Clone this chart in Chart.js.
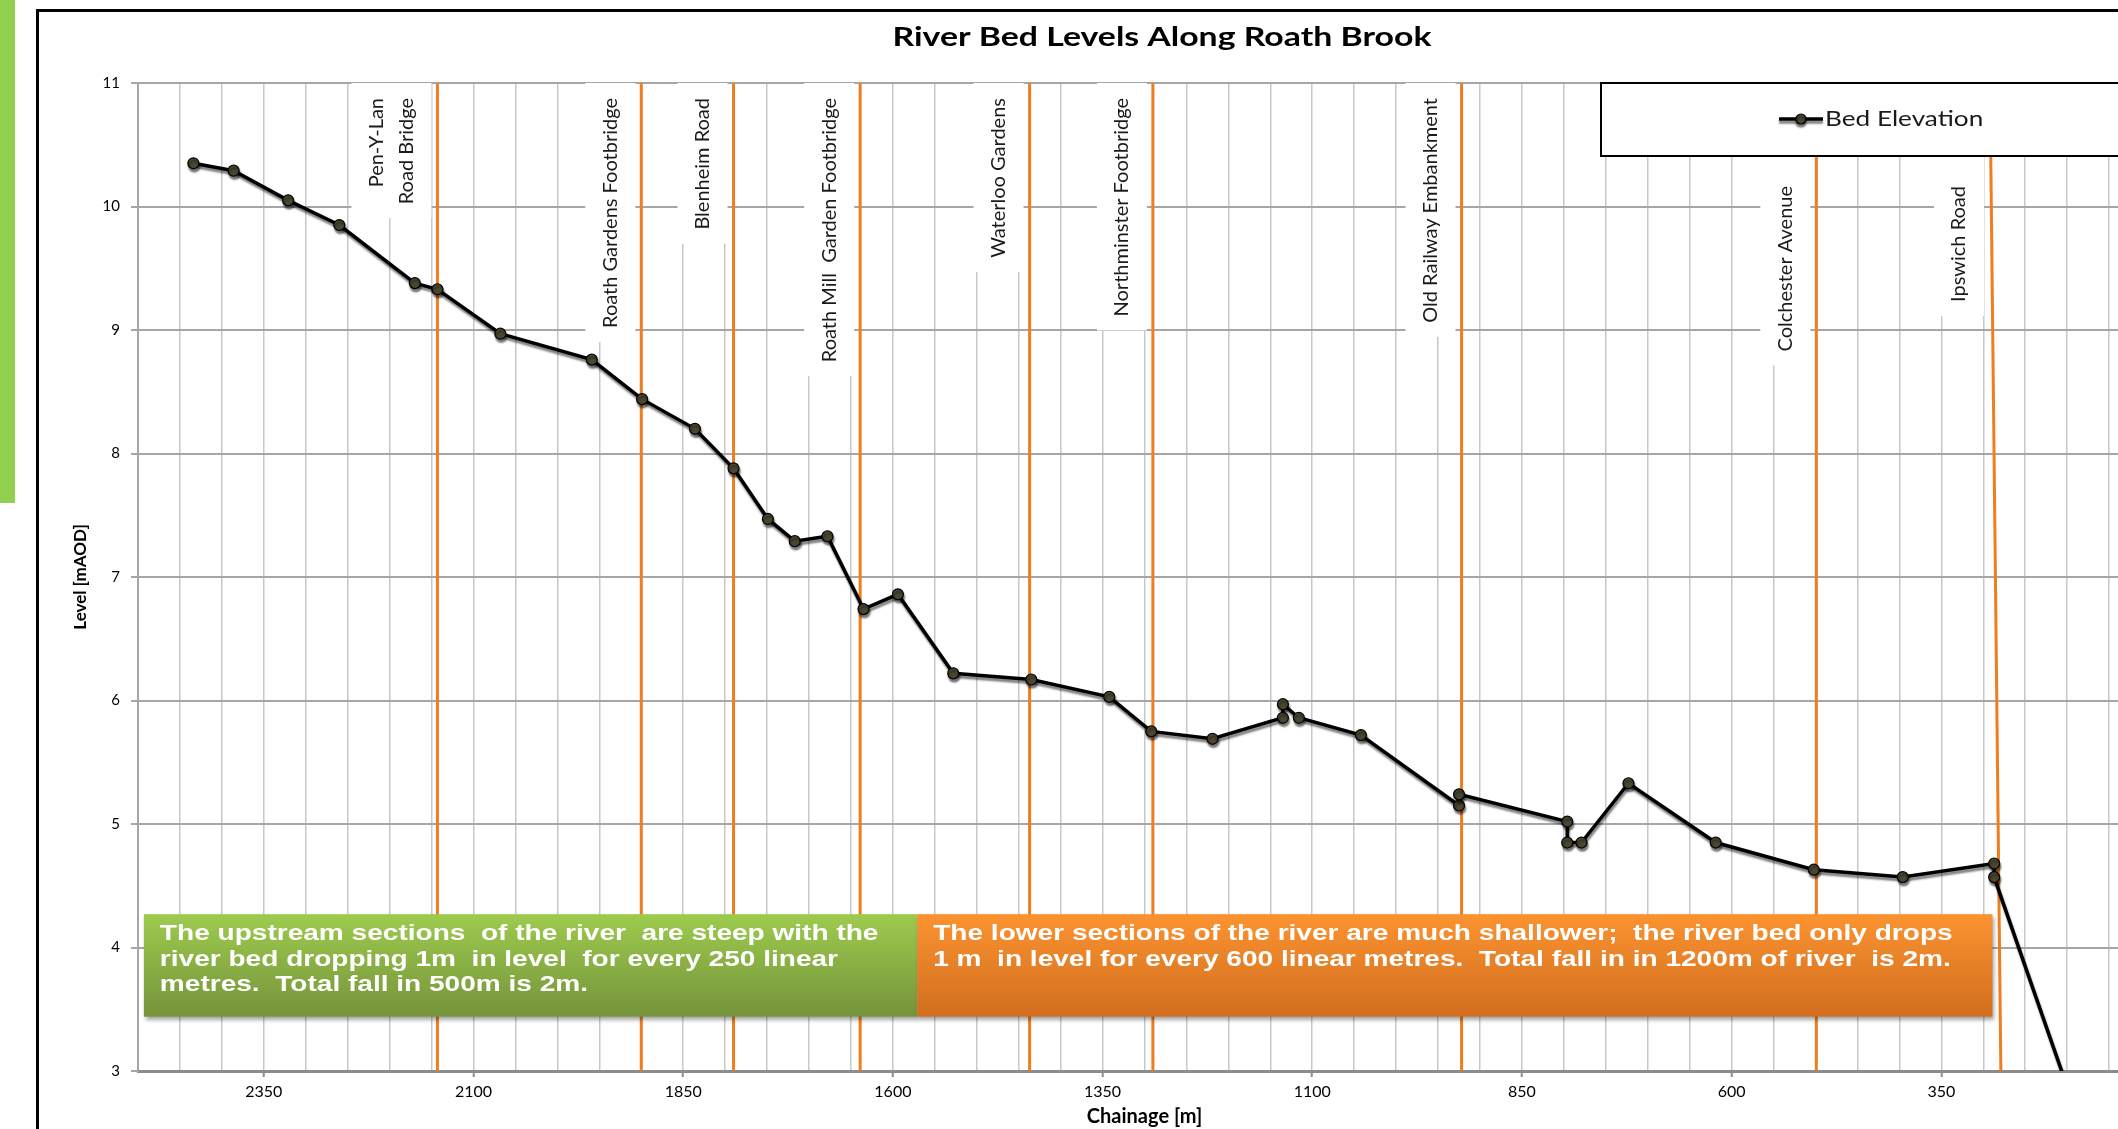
<!DOCTYPE html>
<html>
<head>
<meta charset="utf-8">
<script src="https://cdn.jsdelivr.net/npm/chart.js@4.4.1/dist/chart.umd.min.js"></script>
<style>
  html, body { margin: 0; padding: 0; background: #fff; overflow: hidden; }
  #wrap { position: relative; width: 2118px; height: 1129px; overflow: hidden; }
  canvas { display: block; }
</style>
</head>
<body>
<div id="wrap"><canvas id="riverChart" width="2171" height="1129"></canvas></div>
<script>
// surveyed bed levels, chainage [m] against level [mAOD]
const chainage = [2434, 2386, 2321, 2260, 2170, 2143, 2068, 1959, 1899, 1836, 1790, 1749, 1717,
  1678, 1635, 1594, 1528, 1435, 1342, 1292, 1219, 1135, 1135, 1116, 1042, 925, 925, 796, 796,
  779, 723, 619, 502, 396, 287, 287, 186];
const bedLevel = [10.35, 10.29, 10.05, 9.85, 9.38, 9.33, 8.97, 8.76, 8.44, 8.20, 7.88, 7.47, 7.29,
  7.33, 6.74, 6.86, 6.22, 6.17, 6.03, 5.75, 5.69, 5.86, 5.97, 5.86, 5.72, 5.15, 5.24, 5.02, 4.85,
  4.85, 5.33, 4.85, 4.63, 4.57, 4.68, 4.57, 2.60];

// bridges and other structures along the brook
const structureNames = [
  ["Pen-Y-Lan", "Road Bridge"],
  ["Roath Gardens Footbridge"],
  ["Blenheim Road"],
  ["Roath Mill  Garden Footbridge"],
  ["Waterloo Gardens"],
  ["Northminster Footbridge"],
  ["Old Railway Embankment"],
  ["Colchester Avenue"],
  ["Ipswich Road"],
];
const structureChainageTop = [2143, 1900, 1790, 1639, 1437, 1290, 922, 499, 292];
const structureChainageBase = [2143, 1900, 1790, 1639, 1437, 1290, 922, 499, 279];

const xLabelValues = [2350, 2100, 1850, 1600, 1350, 1100, 850, 600, 350];

const upstreamNote = [
  "The upstream sections  of the river  are steep with the",
  "river bed dropping 1m  in level  for every 250 linear",
  "metres.  Total fall in 500m is 2m.",
];
const lowerNote = [
  "The lower sections of the river are much shallower;  the river bed only drops",
  "1 m  in level for every 600 linear metres.  Total fall in in 1200m of river  is 2m.",
];

const ORANGE = "#f07d1e";
const LEGEND_W = 550;
const LEGEND_H = 73;

// the source picture is a little wider than tall, so flat text is stretched
function wideText(ctx, text, x, y, sx) {
  ctx.save();
  ctx.translate(x, y);
  ctx.scale(sx, 1);
  ctx.fillText(text, 0, 0);
  ctx.restore();
}

function drawFrame(chart) {
  const { ctx, width, height } = chart;
  ctx.save();
  ctx.fillStyle = "#fff";
  ctx.fillRect(0, 0, width, height);
  ctx.fillStyle = "#92d050";
  ctx.fillRect(0, 0, 15, 503);
  ctx.strokeStyle = "#000";
  ctx.lineWidth = 3;
  ctx.strokeRect(37.5, 10.5, width, height);
  ctx.fillStyle = "#000";
  ctx.font = "bold 26px Lato";
  ctx.textAlign = "center";
  ctx.textBaseline = "middle";
  wideText(ctx, "River Bed Levels Along Roath Brook", 1162, 38, 1.3);
  ctx.restore();
}

function drawStructureLabels(chart) {
  const { ctx, chartArea, scales } = chart;
  const legendLeft = chartArea.right - LEGEND_W;
  const gap = 30;
  ctx.save();
  ctx.font = "20px Lato";
  ctx.textBaseline = "middle";
  structureNames.forEach((lines, i) => {
    const px = scales.x.getPixelForValue(structureChainageTop[i]);
    const w = 20 + (lines.length - 1) * gap + 30;
    const right = px - 6;
    const left = right - w;
    const underLegend = right > legendLeft;
    const top = underLegend ? chartArea.top + LEGEND_H : chartArea.top;
    const textEnd = top + (underLegend ? 30 : 15);
    const len = Math.max(...lines.map((l) => ctx.measureText(l).width));
    ctx.fillStyle = "#fff";
    ctx.fillRect(left, top, w, textEnd - top + len + 14);
    ctx.fillStyle = "#1a1a1a";
    lines.forEach((line, j) => {
      const cx = left + w / 2 + (j - (lines.length - 1) / 2) * gap;
      ctx.save();
      ctx.translate(cx, textEnd);
      ctx.rotate(-Math.PI / 2);
      ctx.textAlign = "right";
      ctx.fillText(line, 0, 0);
      ctx.restore();
    });
  });
  ctx.restore();
}

function drawNote(chart, lines, fromX, toX, topColor, bottomColor) {
  const { ctx, scales } = chart;
  const x0 = scales.x.getPixelForValue(fromX);
  const x1 = scales.x.getPixelForValue(toX);
  const y0 = scales.y.getPixelForValue(4.27);
  const y1 = scales.y.getPixelForValue(3.44);
  ctx.save();
  const grad = ctx.createLinearGradient(0, y0, 0, y1);
  grad.addColorStop(0, topColor);
  grad.addColorStop(1, bottomColor);
  ctx.shadowColor = "rgba(0,0,0,0.35)";
  ctx.shadowBlur = 4;
  ctx.shadowOffsetX = 2;
  ctx.shadowOffsetY = 3;
  ctx.fillStyle = grad;
  ctx.fillRect(x0, y0, x1 - x0, y1 - y0);
  ctx.shadowColor = "transparent";
  ctx.fillStyle = "#fff";
  ctx.font = "bold 22px 'Liberation Sans'";
  ctx.textAlign = "left";
  ctx.textBaseline = "middle";
  lines.forEach((line, j) => wideText(ctx, line, x0 + 16, y0 + 20 + j * 25.5, 1.275));
  ctx.restore();
}

function drawLegend(chart) {
  const { ctx, chartArea, width } = chart;
  const left = chartArea.right - LEGEND_W;
  const top = chartArea.top;
  ctx.save();
  ctx.fillStyle = "#fff";
  ctx.fillRect(left, top, width, LEGEND_H);
  ctx.strokeStyle = "#000";
  ctx.lineWidth = 2;
  ctx.strokeRect(left, top, width, LEGEND_H);
  const cy = top + 36;
  ctx.shadowColor = "rgba(0,0,0,0.5)";
  ctx.shadowBlur = 2;
  ctx.shadowOffsetY = 3;
  ctx.strokeStyle = "#000";
  ctx.lineWidth = 3.5;
  ctx.beginPath();
  ctx.moveTo(left + 178, cy);
  ctx.lineTo(left + 222, cy);
  ctx.stroke();
  ctx.beginPath();
  ctx.arc(left + 200, cy, 5, 0, Math.PI * 2);
  ctx.fillStyle = "#4a4631";
  ctx.fill();
  ctx.lineWidth = 1.2;
  ctx.stroke();
  ctx.shadowColor = "transparent";
  ctx.fillStyle = "#1a1a1a";
  ctx.font = "22px Lato";
  ctx.textAlign = "left";
  ctx.textBaseline = "middle";
  wideText(ctx, "Bed Elevation", left + 224, cy, 1.19);
  ctx.restore();
}

const decorations = {
  id: "decorations",
  beforeDraw: drawFrame,
  beforeDatasetsDraw: drawStructureLabels,
  beforeDatasetDraw(chart, args) {
    if (args.index !== 0) return;
    const ctx = chart.ctx;
    ctx.save();
    ctx.shadowColor = "rgba(0,0,0,0.5)";
    ctx.shadowBlur = 2;
    ctx.shadowOffsetX = 1;
    ctx.shadowOffsetY = 3;
  },
  afterDatasetDraw(chart, args) {
    if (args.index === 0) chart.ctx.restore();
  },
  afterDatasetsDraw(chart) {
    drawNote(chart, upstreamNote, 2493, 1571, "#9dcb4e", "#76933b");
    drawNote(chart, lowerNote, 1571, 289, "#fb9330", "#d26e1f");
    drawLegend(chart);
  },
};

const structureSets = structureNames.map((name, i) => ({
  label: name.join(" "),
  data: [
    { x: structureChainageTop[i], y: 11 },
    { x: structureChainageBase[i], y: 3 },
  ],
  showLine: true,
  borderColor: ORANGE,
  borderWidth: 3,
  pointRadius: 0,
}));

new Chart(document.getElementById("riverChart"), {
  type: "scatter",
  data: {
    datasets: [
      {
        label: "Bed Elevation",
        data: chainage.map((c, i) => ({ x: c, y: bedLevel[i] })),
        showLine: true,
        borderColor: "#000",
        borderWidth: 3.5,
        pointRadius: 5.5,
        pointBackgroundColor: "#4a4631",
        pointBorderColor: "#000",
        pointBorderWidth: 1.2,
      },
      ...structureSets,
    ],
  },
  options: {
    responsive: false,
    animation: false,
    devicePixelRatio: 1,
    layout: { padding: { left: 0, top: 83, right: 20, bottom: 0 } },
    plugins: {
      legend: { display: false },
      title: { display: false },
      tooltip: { enabled: false },
    },
    scales: {
      x: {
        type: "linear",
        reverse: true,
        min: 100,
        max: 2500,
        afterFit: (s) => { s.height = 58; },
        ticks: {
          stepSize: 50,
          autoSkip: false,
          maxRotation: 0,
          padding: 5,
          color: "#000",
          font: { family: "Lato", size: 16 },
          callback: (v) => (xLabelValues.includes(Math.round(v)) ? String(Math.round(v)) : ""),
        },
        grid: {
          color: "#c8c8c8",
          lineWidth: 1.5,
          tickLength: 6,
          tickWidth: 2,
          tickColor: (c) => (c.tick && xLabelValues.includes(Math.round(c.tick.value)) ? "#8c8c8c" : "rgba(0,0,0,0)"),
        },
        border: { color: "#8c8c8c", width: 3 },
        title: {
          display: true,
          text: "Chainage [m]",
          color: "#000",
          font: { family: "Lato", size: 20, weight: "bold" },
          padding: { top: 0, bottom: 0 },
        },
      },
      y: {
        min: 3,
        max: 11,
        afterFit: (s) => { s.width = 138; },
        ticks: { stepSize: 1, padding: 11, color: "#000", font: { family: "Lato", size: 15 } },
        grid: { color: "#a6a6a6", lineWidth: 2, tickLength: 7, tickColor: "#a6a6a6" },
        border: { color: "#a6a6a6", width: 2 },
        title: {
          display: true,
          text: "Level [mAOD]",
          color: "#000",
          font: { family: "Lato", size: 17, weight: "bold" },
          padding: { top: 70, bottom: 0 },
        },
      },
    },
  },
  plugins: [decorations],
});
</script>
</body>
</html>
